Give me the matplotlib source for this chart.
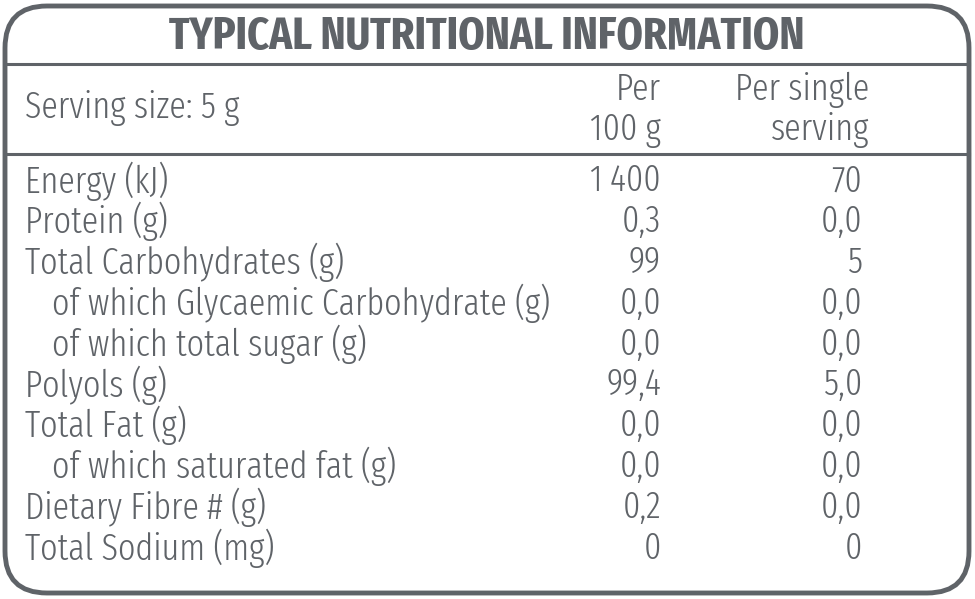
import matplotlib
matplotlib.use("Agg")
import matplotlib.pyplot as plt
from matplotlib.patches import FancyBboxPatch

fam = ["Fira Sans Extra Condensed", "DejaVu Sans"]

title = "TYPICAL NUTRITIONAL INFORMATION"
serving = "Serving size: 5 g"
col_heads = ["Per\n100 g", "Per single\nserving"]
labels = ["Energy (kJ)", "Protein (g)", "Total Carbohydrates (g)",
          "of which Glycaemic Carbohydrate (g)", "of which total sugar (g)",
          "Polyols (g)", "Total Fat (g)", "of which saturated fat (g)",
          "Dietary Fibre # (g)", "Total Sodium (mg)"]
indent = [0, 0, 0, 1, 1, 0, 0, 1, 0, 0]
per100 = ["1\u2009400", "0,3", "99", "0,0", "0,0", "99,4", "0,0", "0,0", "0,2", "0"]
per_serving = ["70", "0,0", "5", "0,0", "0,0", "5,0", "0,0", "0,0", "0,0", "0"]

col = "#5f6368"
fs = 26.6
wt = 300
fig = plt.figure(figsize=(9.75, 5.99), dpi=100)
ax = fig.add_axes([0, 0, 1, 1])
ax.set_xlim(0, 975)
ax.set_ylim(599, 0)
ax.axis("off")

# rounded frame + the two rules
box = FancyBboxPatch((5, 6), 964, 587, boxstyle="round,pad=0,rounding_size=42",
                     fc="white", ec=col, lw=3.5)
ax.add_patch(box)
ax.plot([5, 969], [64, 64], color=col, lw=2.2)
ax.plot([5, 969], [154, 154], color=col, lw=2.2)

ax.text(487, 37, title, ha="center", va="center", fontsize=33, fontweight="bold",
        color=col, family=fam)
ax.text(25, 108, serving, ha="left", va="center", fontsize=fs, color=col,
        family=fam, fontweight=wt)
ax.text(661, 110, col_heads[0], ha="right", va="center", fontsize=fs, color=col,
        family=fam, fontweight=wt, linespacing=1.15, multialignment="right")
ax.text(869, 110, col_heads[1], ha="right", va="center", fontsize=fs, color=col,
        family=fam, fontweight=wt, linespacing=1.15, multialignment="right")

y0, dy = 181, 40.8
for i, (lab, a, b) in enumerate(zip(labels, per100, per_serving)):
    y = y0 + i * dy
    ax.text(25 + 27 * indent[i], y, lab, ha="left", va="center", fontsize=fs,
            color=col, family=fam, fontweight=wt)
    ax.text(661, y, a, ha="right", va="center", fontsize=fs, color=col,
            family=fam, fontweight=wt)
    ax.text(862, y, b, ha="right", va="center", fontsize=fs, color=col,
            family=fam, fontweight=wt)

fig.savefig("out.png", dpi=100)
